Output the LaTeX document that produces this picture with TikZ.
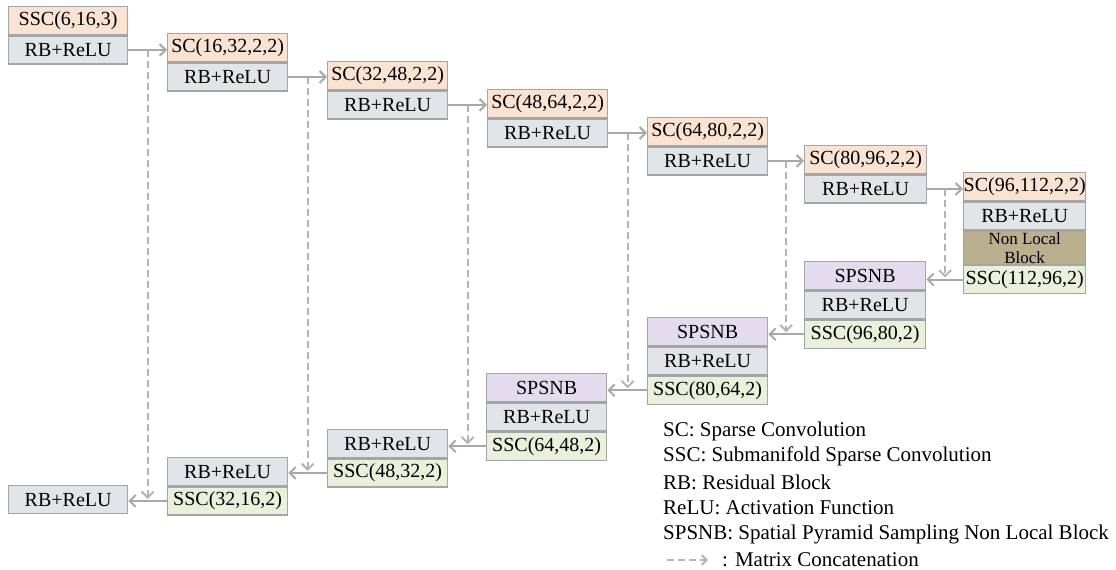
\documentclass[tikz,border=0pt]{standalone}
\usepackage{fontspec}
\setmainfont{Liberation Serif}
\usetikzlibrary{arrows.meta,calc}
\definecolor{bordc}{HTML}{A3A5A7}
\definecolor{arrc}{HTML}{A8A8A8}
\definecolor{dashc}{HTML}{B4B4B4}
\definecolor{scc}{HTML}{FBE3D3}
\definecolor{rbc}{HTML}{E2E5E8}
\definecolor{nlc}{HTML}{BAAF8F}
\definecolor{spc}{HTML}{E2DCEE}
\definecolor{ssc}{HTML}{EAF0DC}
\tikzset{
  cell/.style={draw=bordc, line width=1.3pt, minimum height=28pt, minimum width=120pt,
    inner sep=0pt, font=\fontsize{20}{20}\selectfont, text=black},
  sccell/.style={cell, fill=scc},
  rbcell/.style={cell, fill=rbc},
  nlcell/.style={cell, fill=nlc, minimum height=33pt, align=center, font=\fontsize{17}{19}\selectfont},
  spcell/.style={cell, fill=spc},
  sscell/.style={cell, fill=ssc},
  arr/.style={draw=arrc, line width=2pt, -{Straight Barb[length=6pt,width=12pt,line width=2pt]}},
  darr/.style={draw=dashc, line width=2pt, dash pattern=on 7pt off 4pt, shorten >=2pt,
    -{Straight Barb[length=6pt,width=12pt,line width=2pt]}},
  legend/.style={anchor=west, inner sep=0pt, font=\fontsize{21}{21}\selectfont, text=black}
}
\begin{document}
\begin{tikzpicture}[x=1pt,y=-1pt]
\useasboundingbox (0,0) rectangle (1116,570);
% encoder
\node[sccell, minimum width=119pt, anchor=north west] (e0a) at (8,6) {SSC(6,16,3)};
\node[rbcell, minimum width=119pt, anchor=north] (e0b) at (e0a.south) {RB+ReLU};
\node[sccell, anchor=north west] (e1a) at (167,33) {SC(16,32,2,2)};
\node[rbcell, anchor=north] (e1b) at (e1a.south) {RB+ReLU};
\node[sccell, anchor=north west] (e2a) at (327,61) {SC(32,48,2,2)};
\node[rbcell, anchor=north] (e2b) at (e2a.south) {RB+ReLU};
\node[sccell, anchor=north west] (e3a) at (487,89) {SC(48,64,2,2)};
\node[rbcell, anchor=north] (e3b) at (e3a.south) {RB+ReLU};
\node[sccell, anchor=north west] (e4a) at (647,117) {SC(64,80,2,2)};
\node[rbcell, anchor=north] (e4b) at (e4a.south) {RB+ReLU};
\node[sccell, minimum width=122pt, anchor=north west] (e5a) at (804,145) {SC(80,96,2,2)};
\node[rbcell, minimum width=122pt, anchor=north] (e5b) at (e5a.south) {RB+ReLU};
\node[sccell, minimum width=122pt, anchor=north west] (e6a) at (963,172) {SC(96,112,2,2)};
\node[rbcell, minimum width=122pt, anchor=north] (e6b) at (e6a.south) {RB+ReLU};
\node[nlcell, minimum width=122pt, anchor=north] (e6c) at (e6b.south) {Non Local\\Block};
\node[sscell, minimum width=122pt, anchor=north] (e6d) at (e6c.south) {SSC(112,96,2)};
% decoder
\node[spcell, minimum width=121pt, anchor=north west] (d5a) at (804,261) {SPSNB};
\node[rbcell, minimum width=121pt, anchor=north] (d5b) at (d5a.south) {RB+ReLU};
\node[sscell, minimum width=121pt, anchor=north] (d5c) at (d5b.south) {SSC(96,80,2)};
\node[spcell, anchor=north west] (d4a) at (647,317) {SPSNB};
\node[rbcell, anchor=north] (d4b) at (d4a.south) {RB+ReLU};
\node[sscell, anchor=north] (d4c) at (d4b.south) {SSC(80,64,2)};
\node[spcell, anchor=north west] (d3a) at (486,373) {SPSNB};
\node[rbcell, anchor=north] (d3b) at (d3a.south) {RB+ReLU};
\node[sscell, anchor=north] (d3c) at (d3b.south) {SSC(64,48,2)};
\node[rbcell, anchor=north west] (d2a) at (327,429) {RB+ReLU};
\node[sscell, anchor=north] (d2b) at (d2a.south) {SSC(48,32,2)};
\node[rbcell, anchor=north west] (d1a) at (167,457) {RB+ReLU};
\node[sscell, anchor=north] (d1b) at (d1a.south) {SSC(32,16,2)};
\node[rbcell, minimum width=119pt, anchor=north west] (d0a) at (8,485) {RB+ReLU};
% encoder arrows and skip coordinates
\foreach \s/\t/\n in {e0b/e1a/0, e1b/e2a/1, e2b/e3a/2, e3b/e4a/3, e4b/e5a/4, e5b/e6a/5}{
  \draw[arr] (\s.east) -- (\s.east -| \t.west);
  \coordinate (k\n) at ($(\s.east)!0.5!(\s.east -| \t.west)$);
}
% decoder arrows
\foreach \s/\t/\n in {d1b/d0a/0, d2b/d1a/1, d3c/d2a/2, d4c/d3a/3, d5c/d4a/4, e6d/d5a/5}{
  \draw[arr] (\s.west) -- (\s.west -| \t.east);
  \draw[darr] (k\n) -- (k\n |- \s.west);
}
% legend
\node[legend] (l1) at (663,431) {SC: Sparse Convolution};
\node[legend] (l2) at (663,456) {SSC: Submanifold Sparse Convolution};
\node[legend] (l3) at (663,482) {RB: Residual Block};
\node[legend] (l4) at (663,508) {ReLU: Activation Function};
\node[legend] (l5) at (663,534) {SPSNB: Spatial Pyramid Sampling Non Local Block};
\coordinate (la) at (667,560);
\node[legend] (l6) at (722,560) {: Matrix Concatenation};
\draw[draw=dashc, line width=2pt, dash pattern=on 7pt off 4pt, -{Straight Barb[length=5pt,width=10pt,line width=2pt]}] (la) -- (la -| 708,0);
\end{tikzpicture}
\end{document}
